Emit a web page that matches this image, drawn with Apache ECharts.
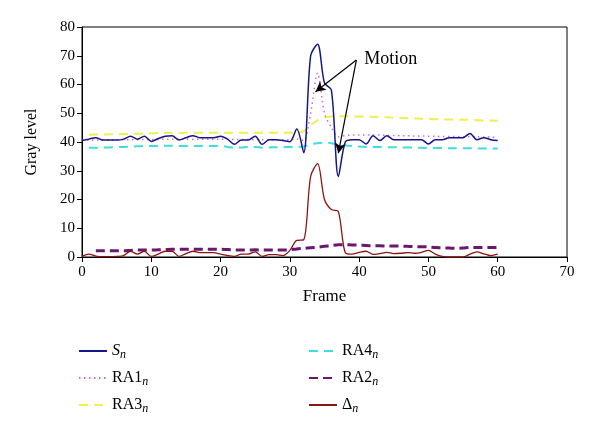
<!DOCTYPE html>
<html><head><meta charset="utf-8">
<script src="https://cdn.jsdelivr.net/npm/echarts@6/dist/echarts.min.js"></script>
<style>html,body{margin:0;padding:0;background:#fff}#c{width:600px;height:430px}</style>
</head><body><div id="c"></div>
<script>
// ---- data ----
var framesS = [0,1,2,3,4,5,6,7,8,9,10,11,12,13,14,15,16,17,18,19,20,21,22,23,24,25,26,27,28,29,30,31,32,33,34,35,36,37,38,39,40,41,42,43,44,45,46,47,48,49,50,51,52,53,54,55,56,57,58,59,60];
var Sn = [40.5,41.0,41.5,40.7,40.7,40.7,41.0,42.0,41.0,42.0,40.2,41.2,42.0,42.2,40.7,41.5,42.2,41.5,41.5,41.5,42.0,41.0,39.2,40.7,40.7,42.0,39.2,40.8,40.8,40.5,40.1,44.5,36.3,70,74,60.5,58,28,40,40.8,40.8,39.3,42.2,40.5,42.2,40.8,40.8,40.8,40.8,40.8,39.3,40.8,40.8,41.5,41.5,41.5,43,40.8,41.5,40.8,40.5];
var RA1 = [40.6,40.6,40.7,40.7,40.7,40.7,40.8,40.8,40.8,40.9,40.9,40.9,41.0,41.0,41.0,41.0,41.0,41.0,41.0,41.0,41.0,41.0,40.9,40.9,40.9,40.9,40.8,40.8,40.8,40.8,40.8,41.0,40.5,50,64,50,45,41.8,42.2,42.4,42.4,42.4,42.4,42.4,42.3,42.3,42.2,42.2,42.1,42.1,42.0,42.0,41.9,41.9,41.9,41.8,41.8,41.8,41.7,41.7,41.6];
var Delta = [0.2,1.0,0.3,0.1,0.1,0.2,0.5,2.0,1.0,2.0,0.2,1.0,2.0,2.0,0.2,1.2,2.0,1.5,1.5,1.5,1.0,0.5,0.2,1.0,1.0,1.8,0.2,0.8,0.8,0.5,2.3,5.8,6.0,28,32.5,20,16.5,15.8,1.5,1.0,1.6,2.0,0.9,1.2,1.6,1.2,1.3,1.5,1.3,1.6,2.3,1.0,0.2,0.0,0.0,0.0,1.0,1.8,1.1,0.5,1.0];
var framesRA34 = [1,2,3,4,5,6,7,8,9,10,11,12,13,14,15,16,17,18,19,20,21,22,23,24,25,26,27,28,29,30,31,32,33,34,35,36,37,38,39,40,41,42,43,44,45,46,47,48,49,50,51,52,53,54,55,56,57,58,59,60];
var RA3 = [42.5,42.6,42.6,42.7,42.7,42.8,42.8,42.9,42.9,43.0,43.1,43.1,43.1,43.1,43.2,43.2,43.2,43.2,43.2,43.2,43.2,43.2,43.2,43.2,43.2,43.2,43.2,43.2,43.2,43.2,43.2,43.8,45.8,47.5,48.4,48.9,49.0,49.0,48.9,48.9,48.8,48.8,48.7,48.6,48.5,48.4,48.3,48.2,48.1,48.0,47.9,47.9,47.8,47.8,47.7,47.7,47.6,47.5,47.5,47.4];
var RA4 = [38.0,38.0,38.1,38.1,38.2,38.3,38.4,38.5,38.6,38.6,38.6,38.7,38.7,38.6,38.6,38.6,38.6,38.6,38.6,38.6,38.3,38.0,38.1,38.3,38.3,38.0,38.1,38.2,38.2,38.3,38.3,38.4,39.2,39.6,39.8,39.6,39.0,38.8,38.6,38.4,38.3,38.3,38.3,38.2,38.2,38.1,38.1,38.0,38.0,37.9,37.9,37.9,37.8,37.8,37.8,37.8,37.8,37.7,37.7,37.7];
var framesRA2 = [2,3,4,5,6,7,8,9,10,11,12,13,14,15,16,17,18,19,20,21,22,23,24,25,26,27,28,29,30,31,32,33,34,35,36,37,38,39,40,41,42,43,44,45,46,47,48,49,50,51,52,53,54,55,56,57,58,59,60];
var RA2 = [2.2,2.2,2.2,2.2,2.2,2.3,2.4,2.4,2.4,2.5,2.6,2.7,2.7,2.7,2.7,2.7,2.7,2.7,2.7,2.6,2.5,2.4,2.4,2.5,2.4,2.4,2.4,2.4,2.5,2.8,3.0,3.2,3.4,3.7,4.0,4.3,4.3,4.2,4.1,4.0,3.9,3.9,3.8,3.8,3.8,3.7,3.6,3.6,3.5,3.3,3.2,3.1,3.0,3.1,3.3,3.3,3.3,3.3,3.3];
var xTicks = [0,10,20,30,40,50,60,70];
var yTicks = [0,10,20,30,40,50,60,70,80];
var motionLabelAt = [40.3, 68.8];
var motionArrowFrom = [39.6, 68.5];
var motionArrowTo = [[33.7, 57.5],[37.0, 36.1]];

function pairs(xs, ys){ return xs.map(function(x,i){ return [x, ys[i]]; }); }

var FONT = '"Liberation Serif", "DejaVu Serif", serif';
var legendNames = {
  'Sn': '{i|S}{s|n}',
  'RA1n': '{r|RA1}{s|n}',
  'RA3n': '{r|RA3}{s|n}',
  'RA4n': '{r|RA4}{s|n}',
  'RA2n': '{r|RA2}{s|n}',
  'Dn': '{r|Δ}{s|n}'
};
var rich = {
  i: {fontFamily: FONT, fontSize: 16, fontStyle: 'italic', color: '#000'},
  r: {fontFamily: FONT, fontSize: 16, color: '#000'},
  s: {fontFamily: FONT, fontSize: 12, fontStyle: 'italic', color: '#000', padding: [8,0,0,0], verticalAlign: 'bottom'}
};

function lineSeries(name, xs, ys, color, width, type){
  return {
    name: name, type: 'line', data: pairs(xs, ys), smooth: 0.3,
    symbol: 'none', showSymbol: false,
    lineStyle: {color: color, width: width, type: type},
    itemStyle: {color: color},
    animation: false, z: 2
  };
}

var series = [
  lineSeries('RA3n', framesRA34, RA3, '#f2ee4c', 2, [9,6]),
  lineSeries('RA4n', framesRA34, RA4, '#3fdede', 2, [9,6]),
  lineSeries('RA1n', framesS, RA1, '#d266d8', 1.5, [1.5,3.5]),
  lineSeries('RA2n', framesRA2, RA2, '#6b1670', 3, [9,5]),
  lineSeries('Dn', framesS, Delta, '#8b1414', 1.3, 'solid'),
  lineSeries('Sn', framesS, Sn, '#14168a', 1.5, 'solid')
];
series[5].z = 3;
series[5].markLine = {
  silent: true, animation: false,
  symbol: ['none', 'arrow'], symbolSize: [8, 10],
  lineStyle: {color: '#000', width: 1.2, type: 'solid'},
  label: {show: false},
  data: motionArrowTo.map(function(t){ return [{coord: motionArrowFrom}, {coord: t}]; })
};
series[5].markPoint = {
  silent: true, animation: false,
  symbol: 'circle', symbolSize: 0,
  label: {show: true, position: 'right', distance: 3, formatter: 'Motion', color: '#000', fontFamily: FONT, fontSize: 18},
  data: [{coord: motionLabelAt}]
};

var legendCommon = {
  orient: 'vertical', top: 338, itemWidth: 28, itemHeight: 14, itemGap: 9,
  formatter: function(n){ return legendNames[n]; }, textStyle: {rich: rich}, selectedMode: false,
  itemStyle: {opacity: 0}
};
var chart = echarts.init(document.getElementById('c'), null, {renderer: 'canvas'});
chart.setOption({
  backgroundColor: '#fff',
  animation: false,
  grid: {left: 82, right: 33, top: 27, bottom: 173, show: true, borderColor: '#000', borderWidth: 1, backgroundColor: 'transparent'},
  xAxis: {
    type: 'value', min: xTicks[0], max: xTicks[xTicks.length-1], interval: 10,
    name: 'Frame', nameLocation: 'middle', nameGap: 31,
    nameTextStyle: {fontFamily: FONT, fontSize: 17, color: '#000'},
    axisLine: {lineStyle: {color: '#000', width: 1}},
    axisTick: {show: true, length: 5, lineStyle: {color: '#000'}},
    axisLabel: {fontFamily: FONT, fontSize: 15, color: '#000', margin: 8},
    splitLine: {show: false}
  },
  yAxis: {
    type: 'value', min: yTicks[0], max: yTicks[yTicks.length-1], interval: 10,
    name: 'Gray level', nameLocation: 'middle', nameGap: 42, nameRotate: 90,
    nameTextStyle: {fontFamily: FONT, fontSize: 16, color: '#000'},
    axisLine: {show: true, lineStyle: {color: '#000', width: 1}},
    axisTick: {show: true, length: 5, lineStyle: {color: '#000'}},
    axisLabel: {fontFamily: FONT, fontSize: 15, color: '#000', margin: 7},
    splitLine: {show: false}
  },
  legend: [
    Object.assign({data: ['Sn','RA1n','RA3n'], left: 73}, legendCommon),
    Object.assign({data: ['RA4n','RA2n','Dn'], left: 303}, legendCommon)
  ],
  series: series
});
</script></body></html>
